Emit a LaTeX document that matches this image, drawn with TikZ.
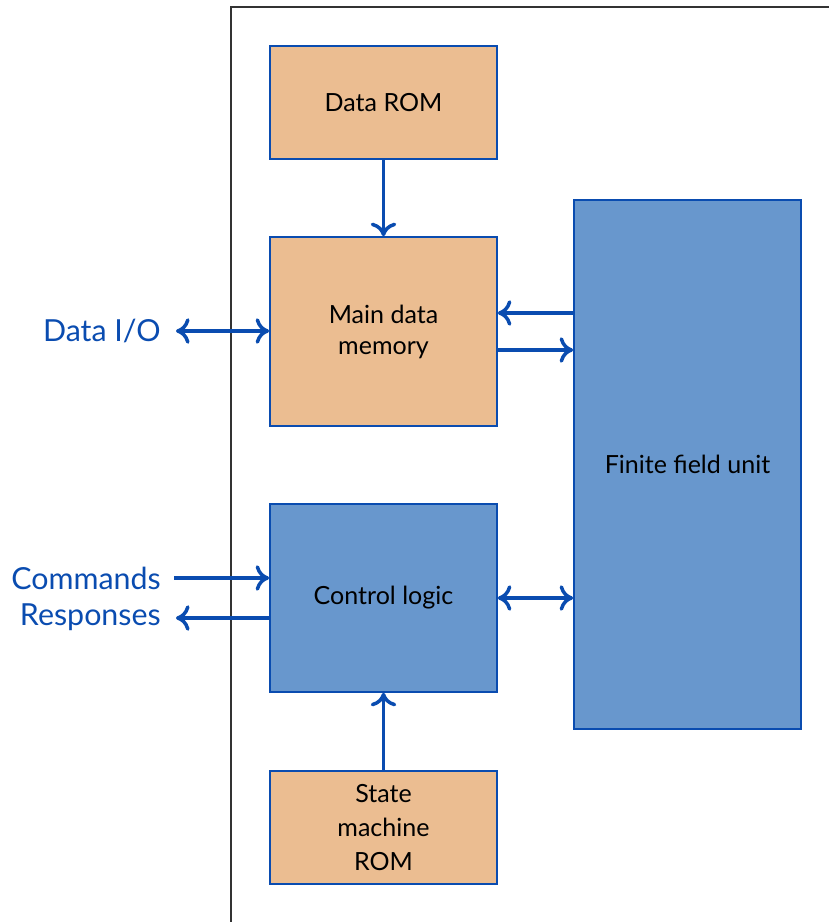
\documentclass[tikz,border=0pt]{standalone}
\usepackage{fontspec}
\setmainfont{Lato}
\usetikzlibrary{arrows.meta}

\definecolor{romfill}{HTML}{EBBD91}
\definecolor{unitfill}{HTML}{6897CD}
\definecolor{linkblue}{HTML}{0A4CB0}
\definecolor{framegray}{HTML}{333333}

\begin{document}
\begin{tikzpicture}[x = 0.025cm, y = -0.025cm,
	> = {Computer Modern Rightarrow[length = 3.4mm, width = 6.4mm]},
	block/.style = {draw = linkblue, line width = 1.1pt, minimum width = 5.675cm,
		align = center, inner sep = 0pt, font = \fontsize{17.8}{22}\selectfont},
	romblock/.style = {block, fill = romfill, minimum height = 2.825cm},
	unitblock/.style = {block, fill = unitfill},
	link/.style = {draw = linkblue, line width = 2.5pt},
	io/.style = {text = linkblue, font = \fontsize{21.6}{27}\selectfont, align = right, inner sep = 0pt, anchor = east}]

	% Picture size

	\useasboundingbox (0, 0) rectangle (829, 922);

	% Chip outline

	\draw [framegray, line width = 1.4pt] (231, 930) -- (231, 7) -- (840, 7);

	% Blocks

	\node [romblock] (drom) at (383.5, 102.5) {Data ROM};
	\node [romblock, minimum height = 4.725cm] (mem) at (383.5, 331.5) {Main data\\memory};
	\node [unitblock, minimum height = 4.7cm] (ctrl) at (383.5, 598) {Control logic};
	\node [romblock, font = \fontsize{17.8}{24}\selectfont] (srom) at (383.5, 827.5) {State\\machine\\ROM};
	\node [unitblock, minimum height = 13.225cm] (ffu) at (687.5, 464.5) {Finite field unit};

	% Outside connections

	\node [io] (dio) at (161, 331) {Data I/O};
	\node [io] (cmd) at (161, 578) {Commands};
	\node [io] (rsp) at (161, 617) {Responses};

	\coordinate (dio-end) at (176, 331);
	\coordinate (cmd-end) at (174, 578);
	\coordinate (rsp-end) at (176, 618);

	% Links

	\draw [link, ->] (drom) -- (mem);
	\draw [link, ->] (srom) -- (ctrl);
	\draw [link, <->] (dio-end) -- (dio-end -| mem.west);
	\draw [link, ->] (cmd-end) -- (cmd-end -| ctrl.west);
	\draw [link, ->] (rsp-end -| ctrl.west) -- (rsp-end);
	\draw [link, ->] (ffu.west |- 0, 313) -- (mem.east |- 0, 313);
	\draw [link, ->] (mem.east |- 0, 350) -- (ffu.west |- 0, 350);
	\draw [link, <->] (ctrl.east) -- (ffu.west |- ctrl.east);

\end{tikzpicture}
\end{document}
